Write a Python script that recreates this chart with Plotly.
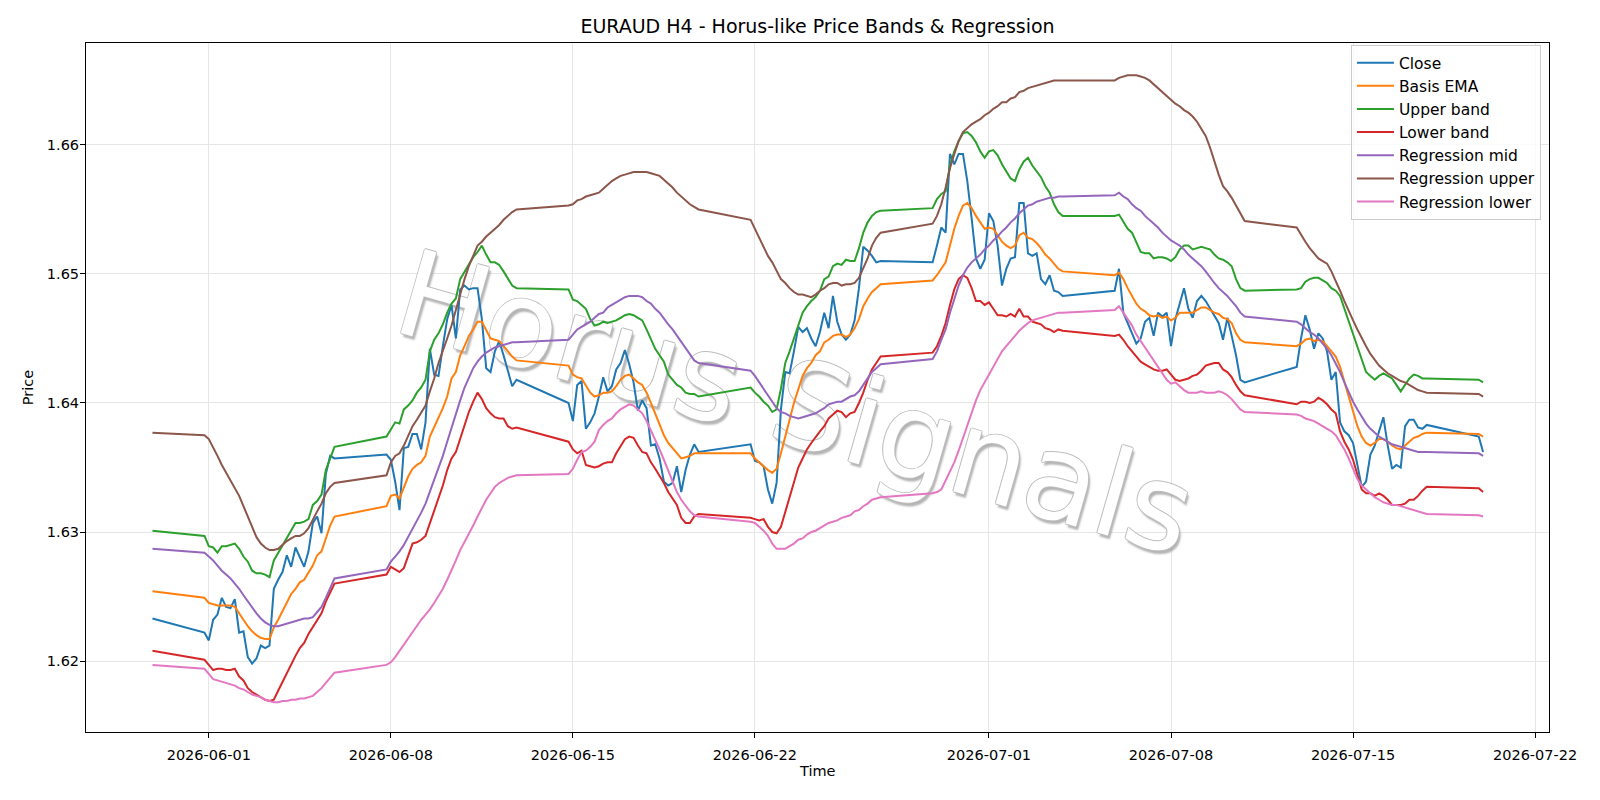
import pandas as pd
import plotly.graph_objects as go

# ---------------- time axis (H4 bars, Sunday 20:00 .. Friday 20:00) ----------------
first_ts = ["2026-05-29 20:00"]
week_sundays = ["2026-05-31", "2026-06-07", "2026-06-14", "2026-06-21",
                "2026-06-28", "2026-07-05", "2026-07-12"]
last_ts = ["2026-07-19 20:00", "2026-07-20 00:00"]


def week_times(sun):
    s = pd.Timestamp(sun)
    out = [s + pd.Timedelta(hours=20)]
    for d in range(1, 6):
        for h in range(0, 24, 4):
            out.append(s + pd.Timedelta(days=d, hours=h))
    return out


times = [pd.Timestamp(t) for t in first_ts]
for s in week_sundays:
    times += week_times(s)
times += [pd.Timestamp(t) for t in last_ts]

# ---------------- series values ----------------
close = [1.6233,
    1.6222,1.6216,1.6232,1.6236,1.6249,1.6242,1.6241,1.6248,1.6222,1.6223,1.6203,1.6198,1.6202,1.6212,1.6210,1.6212,1.6256,1.6263,1.6269,1.6282,1.6273,1.6288,1.6281,1.6273,1.6285,1.6307,1.6312,1.6299,1.6345,1.6359,1.6357,
    1.6360,1.6356,1.6339,1.6317,1.6365,1.6366,1.6376,1.6376,1.6364,1.6385,1.6442,1.6422,1.6421,1.6444,1.6465,1.6476,1.6450,1.6488,1.6491,1.6488,1.6489,1.6489,1.6465,1.6427,1.6424,1.6440,1.6448,1.6437,1.6424,1.6413,1.6418,
    1.6400,1.6386,1.6414,1.6417,1.6380,1.6385,1.6392,1.6405,1.6420,1.6409,1.6413,1.6426,1.6431,1.6441,1.6430,1.6416,1.6394,1.6402,1.6396,1.6367,1.6368,1.6357,1.6339,1.6336,1.6338,1.6351,1.6331,1.6348,1.6360,1.6368,1.6362,
    1.6368,1.6355,1.6354,1.6351,1.6333,1.6322,1.6338,1.6395,1.6424,1.6423,1.6440,1.6459,1.6455,1.6458,1.6450,1.6444,1.6455,1.6470,1.6458,1.6483,1.6463,1.6453,1.6449,1.6453,1.6464,1.6489,1.6521,1.6518,1.6514,1.6509,1.6510,
    1.6509,1.6522,1.6536,1.6532,1.6593,1.6585,1.6593,1.6593,1.6572,1.6543,1.6512,1.6504,1.6511,1.6547,1.6541,1.6522,1.6491,1.6504,1.6512,1.6513,1.6555,1.6555,1.6516,1.6514,1.6516,1.6496,1.6492,1.6499,1.6487,1.6486,1.6483,
    1.6487,1.6504,1.6470,1.6462,1.6454,1.6446,1.6450,1.6463,1.6466,1.6452,1.6470,1.6467,1.6470,1.6444,1.6465,1.6478,1.6489,1.6473,1.6466,1.6479,1.6483,1.6479,1.6473,1.6468,1.6462,1.6449,1.6466,1.6452,1.6437,1.6418,1.6416,
    1.6428,1.6450,1.6468,1.6457,1.6442,1.6454,1.6450,1.6440,1.6418,1.6424,1.6385,1.6378,1.6375,1.6369,1.6352,1.6335,1.6339,1.6360,1.6367,1.6378,1.6389,1.6367,1.6349,1.6352,1.6350,1.6382,1.6387,1.6387,1.6381,1.6380,1.6383,
    1.6374,1.6362]

basis_ema = [1.6254,
    1.6249,1.6245,1.6244,1.6243,1.6243,1.6243,1.6243,1.6242,1.6237,1.6232,1.6227,1.6223,1.6220,1.6218,1.6217,1.6217,1.6226,1.6232,1.6239,1.6245,1.6252,1.6256,1.6261,1.6263,1.6268,1.6274,1.6282,1.6285,1.6295,1.6305,1.6312,
    1.6320,1.6328,1.6329,1.6326,1.6335,1.6343,1.6349,1.6352,1.6354,1.6359,1.6374,1.6381,1.6388,1.6396,1.6405,1.6419,1.6424,1.6437,1.6444,1.6452,1.6457,1.6463,1.6463,1.6457,1.6450,1.6449,1.6448,1.6444,1.6440,1.6436,1.6433,
    1.6429,1.6422,1.6420,1.6419,1.6413,1.6408,1.6405,1.6406,1.6408,1.6408,1.6409,1.6413,1.6418,1.6421,1.6422,1.6419,1.6416,1.6414,1.6408,1.6400,1.6392,1.6383,1.6375,1.6369,1.6365,1.6361,1.6357,1.6358,1.6359,1.6361,1.6361,
    1.6361,1.6357,1.6354,1.6351,1.6348,1.6346,1.6349,1.6361,1.6375,1.6387,1.6400,1.6411,1.6421,1.6427,1.6431,1.6437,1.6440,1.6447,1.6449,1.6452,1.6453,1.6453,1.6451,1.6453,1.6458,1.6465,1.6475,1.6481,1.6486,1.6489,1.6492,
    1.6495,1.6499,1.6504,1.6509,1.6522,1.6535,1.6545,1.6553,1.6555,1.6551,1.6545,1.6540,1.6535,1.6536,1.6535,1.6530,1.6525,1.6522,1.6520,1.6522,1.6530,1.6532,1.6528,1.6527,1.6524,1.6520,1.6515,1.6512,1.6508,1.6504,1.6502,
    1.6499,1.6501,1.6496,1.6489,1.6483,1.6477,1.6473,1.6471,1.6468,1.6467,1.6468,1.6466,1.6467,1.6464,1.6466,1.6470,1.6470,1.6470,1.6470,1.6472,1.6474,1.6474,1.6472,1.6470,1.6469,1.6466,1.6465,1.6462,1.6454,1.6449,1.6447,
    1.6444,1.6446,1.6449,1.6450,1.6448,1.6449,1.6448,1.6444,1.6440,1.6436,1.6428,1.6416,1.6405,1.6393,1.6382,1.6374,1.6369,1.6367,1.6369,1.6372,1.6372,1.6370,1.6367,1.6365,1.6364,1.6367,1.6370,1.6373,1.6374,1.6376,1.6377,
    1.6376,1.6374]

upper_band = [1.6301,
    1.6297,1.6289,1.6288,1.6284,1.6289,1.6289,1.6290,1.6291,1.6287,1.6281,1.6277,1.6270,1.6268,1.6268,1.6267,1.6265,1.6278,1.6284,1.6290,1.6296,1.6302,1.6307,1.6307,1.6308,1.6310,1.6321,1.6324,1.6329,1.6348,1.6357,1.6366,
    1.6374,1.6380,1.6385,1.6384,1.6395,1.6398,1.6402,1.6408,1.6412,1.6418,1.6440,1.6449,1.6454,1.6461,1.6470,1.6477,1.6481,1.6496,1.6502,1.6508,1.6513,1.6517,1.6522,1.6515,1.6509,1.6509,1.6507,1.6502,1.6497,1.6491,1.6489,
    1.6488,1.6480,1.6479,1.6476,1.6473,1.6465,1.6460,1.6461,1.6463,1.6462,1.6463,1.6464,1.6466,1.6468,1.6469,1.6468,1.6466,1.6464,1.6457,1.6449,1.6442,1.6437,1.6432,1.6422,1.6418,1.6414,1.6412,1.6408,1.6407,1.6407,1.6405,
    1.6412,1.6408,1.6405,1.6401,1.6398,1.6393,1.6395,1.6411,1.6431,1.6440,1.6450,1.6460,1.6470,1.6475,1.6479,1.6482,1.6487,1.6496,1.6498,1.6506,1.6508,1.6507,1.6511,1.6510,1.6510,1.6520,1.6532,1.6540,1.6545,1.6548,1.6549,
    1.6551,1.6558,1.6562,1.6564,1.6584,1.6595,1.6603,1.6609,1.6610,1.6607,1.6602,1.6595,1.6590,1.6595,1.6596,1.6592,1.6585,1.6580,1.6574,1.6572,1.6581,1.6587,1.6590,1.6584,1.6579,1.6575,1.6568,1.6563,1.6554,1.6548,1.6545,
    1.6545,1.6546,1.6540,1.6535,1.6532,1.6525,1.6517,1.6516,1.6516,1.6512,1.6513,1.6513,1.6512,1.6510,1.6513,1.6519,1.6522,1.6522,1.6519,1.6520,1.6521,1.6520,1.6519,1.6515,1.6512,1.6511,1.6509,1.6506,1.6496,1.6489,1.6487,
    1.6488,1.6489,1.6494,1.6496,1.6497,1.6497,1.6495,1.6493,1.6489,1.6487,1.6483,1.6473,1.6463,1.6453,1.6444,1.6434,1.6424,1.6421,1.6418,1.6421,1.6423,1.6421,1.6419,1.6414,1.6409,1.6414,1.6419,1.6422,1.6421,1.6419,1.6419,
    1.6418,1.6416]

lower_band = [1.6208,
    1.6201,1.6197,1.6193,1.6194,1.6194,1.6193,1.6193,1.6194,1.6188,1.6185,1.6179,1.6176,1.6174,1.6172,1.6170,1.6169,1.6170,1.6177,1.6184,1.6191,1.6198,1.6204,1.6210,1.6214,1.6221,1.6226,1.6231,1.6237,1.6246,1.6253,1.6260,
    1.6267,1.6273,1.6271,1.6269,1.6272,1.6282,1.6291,1.6292,1.6294,1.6297,1.6307,1.6317,1.6326,1.6336,1.6348,1.6357,1.6362,1.6372,1.6382,1.6393,1.6401,1.6408,1.6403,1.6396,1.6392,1.6389,1.6388,1.6388,1.6382,1.6380,1.6381,
    1.6370,1.6364,1.6361,1.6363,1.6352,1.6351,1.6350,1.6351,1.6353,1.6354,1.6354,1.6361,1.6367,1.6372,1.6374,1.6373,1.6367,1.6362,1.6361,1.6354,1.6349,1.6344,1.6338,1.6331,1.6326,1.6321,1.6311,1.6307,1.6307,1.6312,1.6314,
    1.6311,1.6310,1.6309,1.6310,1.6304,1.6300,1.6299,1.6304,1.6315,1.6326,1.6338,1.6350,1.6357,1.6364,1.6369,1.6374,1.6378,1.6382,1.6388,1.6391,1.6394,1.6393,1.6389,1.6392,1.6393,1.6400,1.6408,1.6418,1.6426,1.6431,1.6436,
    1.6439,1.6444,1.6452,1.6462,1.6476,1.6488,1.6496,1.6499,1.6497,1.6489,1.6479,1.6479,1.6476,1.6478,1.6473,1.6468,1.6468,1.6467,1.6469,1.6467,1.6473,1.6467,1.6467,1.6463,1.6462,1.6461,1.6458,1.6457,1.6455,1.6457,1.6456,
    1.6452,1.6453,1.6449,1.6444,1.6440,1.6436,1.6432,1.6430,1.6428,1.6426,1.6425,1.6425,1.6426,1.6422,1.6418,1.6417,1.6418,1.6419,1.6421,1.6422,1.6425,1.6429,1.6430,1.6431,1.6431,1.6426,1.6424,1.6420,1.6414,1.6409,1.6406,
    1.6399,1.6401,1.6401,1.6400,1.6401,1.6404,1.6402,1.6399,1.6395,1.6392,1.6378,1.6370,1.6364,1.6356,1.6344,1.6333,1.6330,1.6330,1.6328,1.6330,1.6328,1.6325,1.6321,1.6321,1.6321,1.6322,1.6325,1.6325,1.6328,1.6332,1.6335,
    1.6334,1.6331]

reg_mid = [1.6287,
    1.6284,1.6281,1.6278,1.6274,1.6270,1.6267,1.6264,1.6260,1.6256,1.6251,1.6246,1.6241,1.6237,1.6233,1.6230,1.6228,1.6227,1.6227,1.6228,1.6229,1.6230,1.6231,1.6232,1.6233,1.6233,1.6234,1.6238,1.6242,1.6249,1.6256,1.6264,
    1.6271,1.6277,1.6281,1.6285,1.6290,1.6296,1.6303,1.6309,1.6315,1.6322,1.6331,1.6340,1.6349,1.6359,1.6370,1.6381,1.6391,1.6402,1.6412,1.6420,1.6427,1.6432,1.6436,1.6439,1.6441,1.6443,1.6444,1.6445,1.6446,1.6447,1.6447,
    1.6449,1.6453,1.6457,1.6459,1.6461,1.6463,1.6466,1.6469,1.6470,1.6474,1.6476,1.6478,1.6480,1.6482,1.6483,1.6483,1.6483,1.6482,1.6479,1.6477,1.6473,1.6470,1.6465,1.6461,1.6457,1.6452,1.6447,1.6442,1.6437,1.6433,1.6431,
    1.6425,1.6421,1.6416,1.6411,1.6406,1.6401,1.6396,1.6393,1.6392,1.6390,1.6389,1.6388,1.6389,1.6390,1.6391,1.6392,1.6394,1.6396,1.6399,1.6400,1.6401,1.6401,1.6403,1.6405,1.6406,1.6409,1.6414,1.6419,1.6424,1.6427,1.6430,
    1.6434,1.6440,1.6449,1.6457,1.6470,1.6481,1.6491,1.6499,1.6505,1.6509,1.6512,1.6515,1.6519,1.6522,1.6526,1.6529,1.6533,1.6536,1.6540,1.6543,1.6547,1.6550,1.6553,1.6554,1.6556,1.6557,1.6558,1.6559,1.6559,1.6560,1.6560,
    1.6561,1.6563,1.6560,1.6558,1.6554,1.6551,1.6549,1.6545,1.6542,1.6539,1.6536,1.6532,1.6529,1.6526,1.6524,1.6522,1.6519,1.6515,1.6512,1.6509,1.6506,1.6502,1.6497,1.6493,1.6489,1.6486,1.6483,1.6479,1.6475,1.6470,1.6467,
    1.6463,1.6461,1.6458,1.6455,1.6453,1.6450,1.6446,1.6442,1.6437,1.6431,1.6424,1.6416,1.6408,1.6401,1.6395,1.6389,1.6384,1.6380,1.6377,1.6374,1.6372,1.6370,1.6368,1.6367,1.6366,1.6365,1.6364,1.6363,1.6362,1.6362,1.6362,
    1.6361,1.6359]

reg_upper = [1.6377,
    1.6375,1.6372,1.6366,1.6359,1.6352,1.6346,1.6340,1.6335,1.6328,1.6320,1.6312,1.6303,1.6296,1.6291,1.6288,1.6286,1.6286,1.6287,1.6290,1.6293,1.6295,1.6297,1.6297,1.6299,1.6303,1.6310,1.6316,1.6322,1.6330,1.6335,1.6338,
    1.6344,1.6354,1.6359,1.6361,1.6367,1.6374,1.6382,1.6387,1.6392,1.6398,1.6409,1.6419,1.6431,1.6440,1.6450,1.6460,1.6473,1.6484,1.6496,1.6506,1.6514,1.6522,1.6525,1.6529,1.6532,1.6535,1.6538,1.6542,1.6545,1.6548,1.6550,
    1.6553,1.6554,1.6557,1.6558,1.6560,1.6561,1.6562,1.6563,1.6566,1.6569,1.6572,1.6574,1.6576,1.6577,1.6578,1.6579,1.6579,1.6579,1.6579,1.6578,1.6577,1.6576,1.6573,1.6570,1.6567,1.6563,1.6560,1.6557,1.6554,1.6552,1.6550,
    1.6542,1.6535,1.6527,1.6520,1.6514,1.6509,1.6502,1.6496,1.6493,1.6489,1.6486,1.6484,1.6484,1.6483,1.6482,1.6484,1.6487,1.6489,1.6492,1.6493,1.6493,1.6491,1.6492,1.6492,1.6493,1.6497,1.6504,1.6512,1.6522,1.6528,1.6532,
    1.6539,1.6545,1.6554,1.6567,1.6582,1.6593,1.6603,1.6610,1.6613,1.6616,1.6618,1.6620,1.6623,1.6625,1.6628,1.6630,1.6633,1.6633,1.6636,1.6637,1.6641,1.6642,1.6644,1.6645,1.6646,1.6647,1.6648,1.6649,1.6650,1.6650,1.6650,
    1.6650,1.6652,1.6653,1.6654,1.6654,1.6654,1.6653,1.6652,1.6650,1.6647,1.6644,1.6641,1.6638,1.6635,1.6632,1.6630,1.6627,1.6625,1.6622,1.6618,1.6613,1.6607,1.6598,1.6587,1.6577,1.6568,1.6564,1.6559,1.6553,1.6546,1.6541,
    1.6536,1.6530,1.6525,1.6520,1.6516,1.6512,1.6510,1.6508,1.6502,1.6495,1.6487,1.6479,1.6471,1.6464,1.6457,1.6450,1.6444,1.6438,1.6433,1.6429,1.6426,1.6423,1.6421,1.6419,1.6417,1.6416,1.6414,1.6412,1.6410,1.6409,1.6408,
    1.6407,1.6405]

reg_lower = [1.6197,
    1.6194,1.6190,1.6186,1.6185,1.6184,1.6183,1.6182,1.6181,1.6179,1.6178,1.6176,1.6174,1.6173,1.6172,1.6170,1.6169,1.6168,1.6168,1.6169,1.6169,1.6170,1.6170,1.6171,1.6171,1.6172,1.6173,1.6176,1.6179,1.6183,1.6187,1.6191,
    1.6197,1.6199,1.6203,1.6208,1.6213,1.6218,1.6223,1.6228,1.6232,1.6236,1.6240,1.6245,1.6250,1.6256,1.6263,1.6270,1.6278,1.6286,1.6292,1.6298,1.6305,1.6312,1.6319,1.6325,1.6330,1.6335,1.6338,1.6340,1.6342,1.6343,1.6344,
    1.6345,1.6349,1.6356,1.6362,1.6363,1.6366,1.6370,1.6379,1.6383,1.6386,1.6388,1.6392,1.6395,1.6397,1.6399,1.6398,1.6395,1.6392,1.6386,1.6379,1.6372,1.6364,1.6356,1.6348,1.6339,1.6331,1.6325,1.6320,1.6316,1.6313,1.6312,
    1.6308,1.6307,1.6304,1.6301,1.6297,1.6291,1.6287,1.6287,1.6287,1.6289,1.6291,1.6294,1.6295,1.6298,1.6300,1.6301,1.6303,1.6305,1.6307,1.6308,1.6309,1.6311,1.6312,1.6313,1.6316,1.6317,1.6320,1.6322,1.6325,1.6326,1.6327,
    1.6330,1.6331,1.6333,1.6340,1.6346,1.6354,1.6363,1.6373,1.6383,1.6393,1.6402,1.6410,1.6416,1.6422,1.6429,1.6435,1.6440,1.6444,1.6448,1.6452,1.6456,1.6459,1.6462,1.6464,1.6465,1.6466,1.6467,1.6468,1.6469,1.6470,1.6470,
    1.6472,1.6475,1.6470,1.6466,1.6460,1.6453,1.6448,1.6442,1.6437,1.6432,1.6427,1.6422,1.6418,1.6415,1.6416,1.6413,1.6410,1.6408,1.6408,1.6408,1.6409,1.6408,1.6408,1.6408,1.6409,1.6408,1.6406,1.6403,1.6399,1.6395,1.6393,
    1.6391,1.6390,1.6388,1.6387,1.6386,1.6384,1.6382,1.6380,1.6378,1.6375,1.6370,1.6364,1.6357,1.6349,1.6341,1.6336,1.6333,1.6330,1.6327,1.6325,1.6323,1.6322,1.6321,1.6321,1.6320,1.6319,1.6318,1.6317,1.6316,1.6315,1.6314,
    1.6313,1.6312]

series_names = ["Close", "Basis EMA", "Upper band", "Lower band",
                "Regression mid", "Regression upper", "Regression lower"]
series_colors = ["#1f77b4", "#ff7f0e", "#2ca02c", "#d62728",
                 "#9467bd", "#8c564b", "#e377c2"]
series_values = [close, basis_ema, upper_band, lower_band, reg_mid, reg_upper, reg_lower]

x_tick_vals = ["2026-06-01", "2026-06-08", "2026-06-15", "2026-06-22",
               "2026-07-01", "2026-07-08", "2026-07-15", "2026-07-22"]
y_tick_vals = [1.62, 1.63, 1.64, 1.65, 1.66]
y_tick_text = ["1.62", "1.63", "1.64", "1.65", "1.66"]

watermark_text = "Horus Signals"

FONT = "DejaVu Sans"
Y_RANGE = [1.6145, 1.6679]

fig = go.Figure()

# watermark, drawn underneath the lines as the text of an invisible bar
fig.add_trace(go.Bar(
    x=["2026-06-23 13:30"], y=[0.05], base=[1.615], width=[50 * 86400000],
    marker=dict(color="rgba(0,0,0,0)", line=dict(width=0)),
    text=[watermark_text], textposition="inside", insidetextanchor="middle",
    textangle=16, constraintext="none",
    textfont=dict(family=FONT, size=120, color="white",
                  shadow="-1px 0 0 #bdbdbd, 1px 0 0 #bdbdbd, 0 -1px 0 #bdbdbd, 0 1px 0 #bdbdbd, 3px 3px 2px rgba(140,140,140,0.65)"),
    hoverinfo="skip", showlegend=False))

for name, color, vals in zip(series_names, series_colors, series_values):
    fig.add_trace(go.Scatter(x=times, y=vals, mode="lines", name=name,
                             line=dict(color=color, width=2)))

axis_common = dict(showgrid=True, gridcolor="#e6e6e6", gridwidth=1,
                   showline=True, linecolor="black", linewidth=1, mirror=True,
                   ticks="outside", ticklen=5, tickwidth=1, tickcolor="black",
                   zeroline=False, tickfont=dict(family=FONT, size=14.5, color="black"))

fig.update_layout(
    width=1600, height=800, autosize=False,
    paper_bgcolor="white", plot_bgcolor="white",
    margin=dict(l=86, r=51, t=43, b=68),
    font=dict(family=FONT, size=14, color="black"),
    title=dict(text="EURAUD H4 - Horus-like Price Bands & Regression",
               x=0.5, xref="paper", xanchor="center",
               y=1 - 26 / 800, yref="container", yanchor="middle",
               font=dict(family=FONT, size=19, color="black")),
    xaxis=dict(type="date", range=["2026-05-27 06:40", "2026-07-22 12:50"],
               tickvals=x_tick_vals, ticktext=x_tick_vals, ticklabelstandoff=5,
               **axis_common),
    yaxis=dict(range=Y_RANGE, tickvals=y_tick_vals, ticktext=y_tick_text,
               ticklabelstandoff=-2, **axis_common),
    legend=dict(x=0.9945, y=0.997, xanchor="right", yanchor="top",
                bgcolor="rgba(255,255,255,0.8)", bordercolor="#cccccc", borderwidth=1,
                font=dict(family=FONT, size=15.5, color="black"), itemwidth=37),
    showlegend=True,
    barmode="overlay",
)

# axis titles
fig.add_annotation(text="Time", xref="paper", yref="paper", x=0.5, y=-0.0565,
                   xanchor="center", yanchor="middle", showarrow=False,
                   font=dict(family=FONT, size=14.5, color="black"))
fig.add_annotation(text="Price", xref="paper", yref="paper", x=-0.0398, y=0.5,
                   xanchor="center", yanchor="middle", textangle=-90, showarrow=False,
                   font=dict(family=FONT, size=14.5, color="black"))

fig.write_html("out.html")
